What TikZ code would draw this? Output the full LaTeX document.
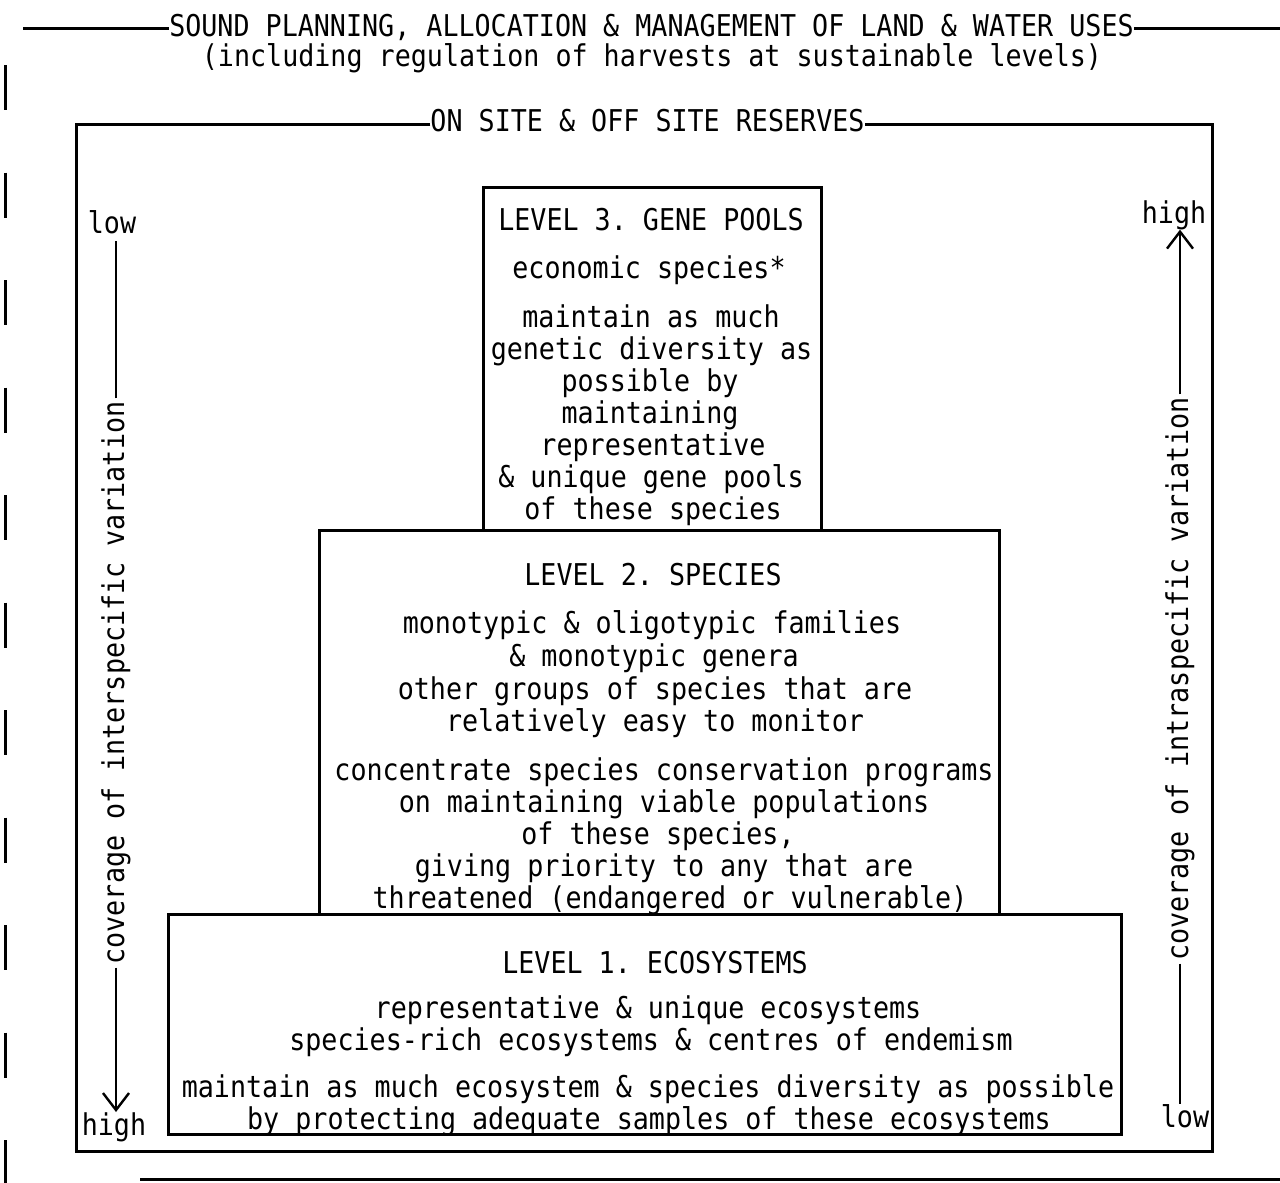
\documentclass[tikz,border=0pt]{standalone}
\usepackage{fontspec}
\usetikzlibrary{arrows.meta}
\newfontfamily\tw{DejaVu Sans Mono}[FakeStretch=0.89]
\begin{document}
\begin{tikzpicture}[x=1pt,y=-1pt,
  txt/.style={font=\tw\fontsize{30}{32}\selectfont\frenchspacing, inner sep=0pt, anchor=base},
  vtxt/.style={font=\tw\fontsize{30}{32}\selectfont\frenchspacing, inner ysep=0pt, inner xsep=3pt, anchor=center, rotate=90},
  frame/.style={line width=3pt},
  arr/.style={line width=2.4pt},
  tip/.style={-{Straight Barb[length=17pt,width=26pt]}}
]
\useasboundingbox (0,0) rectangle (1280,1183);

% outermost frame: title rule, dashed left side, bottom rule
\node[txt] (t1) at (651.5,36) {SOUND PLANNING, ALLOCATION \& MANAGEMENT OF LAND \& WATER USES};
\node[txt] (t2) at (652,66) {(including regulation of harvests at sustainable levels)};
\coordinate (oTL) at (23,28);
\coordinate (oTR) at (1280,28);
\draw[frame] (oTL) -- (oTL -| t1.west);
\draw[frame] (t1.east |- oTR) -- (oTR);
\coordinate (dA) at (5,65);
\coordinate (dB) at (5,1183);
\draw[frame, dash pattern=on 45pt off 62.5pt] (dA) -- (dB);
\coordinate (bA) at (140,1179);
\coordinate (bB) at (1280,1179);
\draw[frame] (bA) -- (bB);

% reserves frame
\node[txt] (res) at (647.5,131) {ON SITE \& OFF SITE RESERVES};
\coordinate (fTL) at (76,124);
\coordinate (fBR) at (1212,1151);
\draw[frame] (res.west |- fTL) -- (fTL) -- (fTL |- fBR) -- (fBR) -- (fBR |- fTL) -- (res.east |- fTL);

% level boxes
\draw[frame] (483,187) rectangle (821,530);
\draw[frame] (319,530) rectangle (999,914);
\draw[frame] (168,914) rectangle (1121,1134);

% level 3
\node[txt] (l3a) at (651,230) {LEVEL 3. GENE POOLS};
\node[txt] (l3b) at (649,278) {economic species*};
\node[txt] (l3c) at (651,327) {maintain as much};
\node[txt] (l3d) at (651.5,359) {genetic diversity as};
\node[txt] (l3e) at (650,391) {possible by};
\node[txt] (l3f) at (650,423) {maintaining};
\node[txt] (l3g) at (653,455) {representative};
\node[txt] (l3h) at (651,487) {\& unique gene pools};
\node[txt] (l3i) at (653,519) {of these species};

% level 2
\node[txt] (l2a) at (653,585) {LEVEL 2. SPECIES};
\node[txt] (l2b) at (652,633) {monotypic \& oligotypic families};
\node[txt] (l2c) at (654,666) {\& monotypic genera};
\node[txt] (l2d) at (655,699) {other groups of species that are};
\node[txt] (l2e) at (655,731) {relatively easy to monitor};
\node[txt] (l2f) at (664,780) {concentrate species conservation programs};
\node[txt] (l2g) at (664,812) {on maintaining viable populations};
\node[txt] (l2h) at (658,844) {of these species,};
\node[txt] (l2i) at (664,876) {giving priority to any that are};
\node[txt] (l2j) at (670,908) {threatened (endangered or vulnerable)};

% level 1
\node[txt] (l1a) at (655,973) {LEVEL 1. ECOSYSTEMS};
\node[txt] (l1b) at (648,1018) {representative \& unique ecosystems};
\node[txt] (l1c) at (651,1050) {species-rich ecosystems \& centres of endemism};
\node[txt] (l1d) at (648,1097) {maintain as much ecosystem \& species diversity as possible};
\node[txt] (l1e) at (649,1129) {by protecting adequate samples of these ecosystems};

% left scale
\node[txt] (loL) at (112,233) {low};
\node[txt] (hiL) at (114,1135) {high};
\node[vtxt] (vL) at (116,683) {coverage of interspecific variation};
\draw[arr, shorten >=7pt] (vL.east) -- (vL.east |- loL.south);
\draw[arr, tip] (vL.west) -- (vL.west |- hiL.north);

% right scale
\node[txt] (hiR) at (1174,223) {high};
\node[txt] (loR) at (1185,1127) {low};
\node[vtxt] (vR) at (1180,679) {coverage of intraspecific variation};
\draw[arr, tip] (vR.east) -- (vR.east |- hiR.south);
\draw[arr] (vR.west) -- (vR.west |- loR.north);
\end{tikzpicture}
\end{document}
